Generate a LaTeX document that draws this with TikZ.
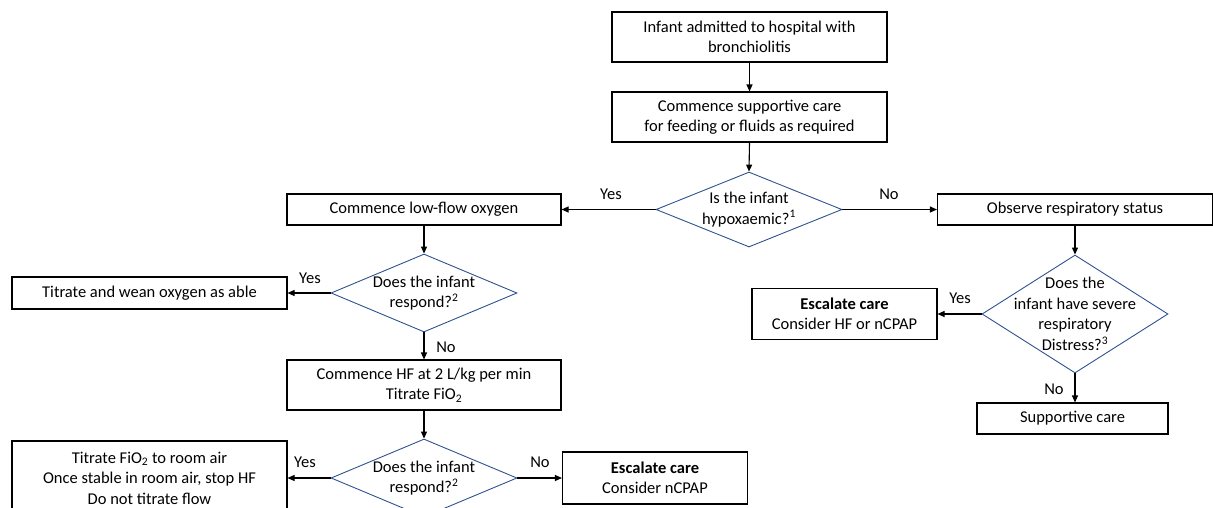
\documentclass[tikz,border=0pt]{standalone}
\usepackage{fontspec}
\setmainfont{Carlito}
\usetikzlibrary{shapes.geometric,arrows.meta}
\definecolor{dblue}{RGB}{47,82,143}
\tikzset{
  box/.style={draw=black,line width=1.1pt,rectangle,inner sep=0pt,align=center,
    font=\fontsize{16.5}{20.5}\selectfont},
  dia/.style={draw=dblue,line width=0.9pt,shape=diamond,inner sep=0pt,
    minimum width=186pt},
  dtext/.style={align=center,font=\fontsize{16.5}{20.5}\selectfont,inner sep=0pt},
  lab/.style={font=\fontsize{16.5}{20.5}\selectfont,inner sep=0pt},
  conn/.style={line width=1.1pt,-{Triangle[length=7pt,width=6pt]}}
}
\begin{document}
\begin{tikzpicture}[x=1pt,y=-1pt]
\path[use as bounding box,clip] (0,0) rectangle (1213,507);
% boxes
\node[box,minimum width=275pt,minimum height=50pt] (b1) at (749.5,37) {Infant admitted to hospital with\\bronchiolitis};
\node[box,minimum width=275pt,minimum height=50pt] (b2) at (749.5,117) {Commence supportive care\\for feeding or fluids as required};
\node[dia,minimum height=75pt] (d1) at (749,209.5) {};
\node[dtext] (d1t) at (749,209.5) {Is the infant\\hypoxaemic?\textsuperscript{1}};
\node[box,minimum width=274pt,minimum height=31pt] (lf) at (424,209.5) {Commence low-flow oxygen};
\node[box,minimum width=275pt,minimum height=31pt] (ob) at (1075,209.5) {Observe respiratory status};
% left branch
\node[dia,minimum height=78pt] (d2) at (424,293) {};
\node[dtext] (d2t) at (424,293) {Does the infant\\respond?\textsuperscript{2}};
\node[box,minimum width=275pt,minimum height=32pt] (tw) at (149.5,293) {Titrate and wean oxygen as able};
\node[box,minimum width=274pt,minimum height=50pt] (hf) at (424,385) {Commence HF at 2 L/kg per min\\Titrate FiO\textsubscript{2}};
\node[dia,minimum height=78pt] (d3) at (424,478) {};
\node[dtext] (d3t) at (424,478) {Does the infant\\respond?\textsuperscript{2}};
\node[box,minimum width=275pt,minimum height=74pt] (tf) at (149.5,478) {Titrate FiO\textsubscript{2} to room air\\Once stable in room air, stop HF\\Do not titrate flow};
\node[box,minimum width=185pt,minimum height=52pt] (e2) at (655,478) {\textbf{Escalate care}\\Consider nCPAP};
% right branch
\node[dia,minimum height=118pt] (d4) at (1075,314) {};
\node[dtext] (d4t) at (1075,314) {Does the\\infant have severe\\respiratory\\Distress?\textsuperscript{3}};
\node[box,minimum width=185pt,minimum height=51pt] (e1) at (844.5,314) {\textbf{Escalate care}\\Consider HF or nCPAP};
\node[box,minimum width=191pt,minimum height=31pt] (sc) at (1072.5,418.5) {Supportive care};
% connectors
\draw[conn] (b1.south -| b2.north) -- (b2.north);
\draw[conn] (b2.south) -- (d1.north);
\draw[conn] (d1.west) -- (lf.east);
\draw[conn] (d1.east) -- (ob.west);
\draw[conn] (lf.south) -- (d2.north);
\draw[conn] (d2.west) -- (tw.east);
\draw[conn] (d2.south) -- (hf.north);
\draw[conn] (hf.south) -- (d3.north);
\draw[conn] (d3.west) -- (tf.east);
\draw[conn] (d3.east) -- (e2.west);
\draw[conn] (ob.south) -- (d4.north);
\draw[conn] (d4.west) -- (e1.east);
\draw[conn] (d4.south) -- (d4.south |- sc.north);
% labels
\node[lab] (l1) at (611,194) {Yes};
\node[lab] (l2) at (889,194) {No};
\node[lab] (l3) at (310,278) {Yes};
\node[lab] (l4) at (446,347) {No};
\node[lab] (l5) at (305,462) {Yes};
\node[lab] (l6) at (540,462) {No};
\node[lab] (l7) at (960,298) {Yes};
\node[lab] (l8) at (1054,389) {No};
\end{tikzpicture}
\end{document}
